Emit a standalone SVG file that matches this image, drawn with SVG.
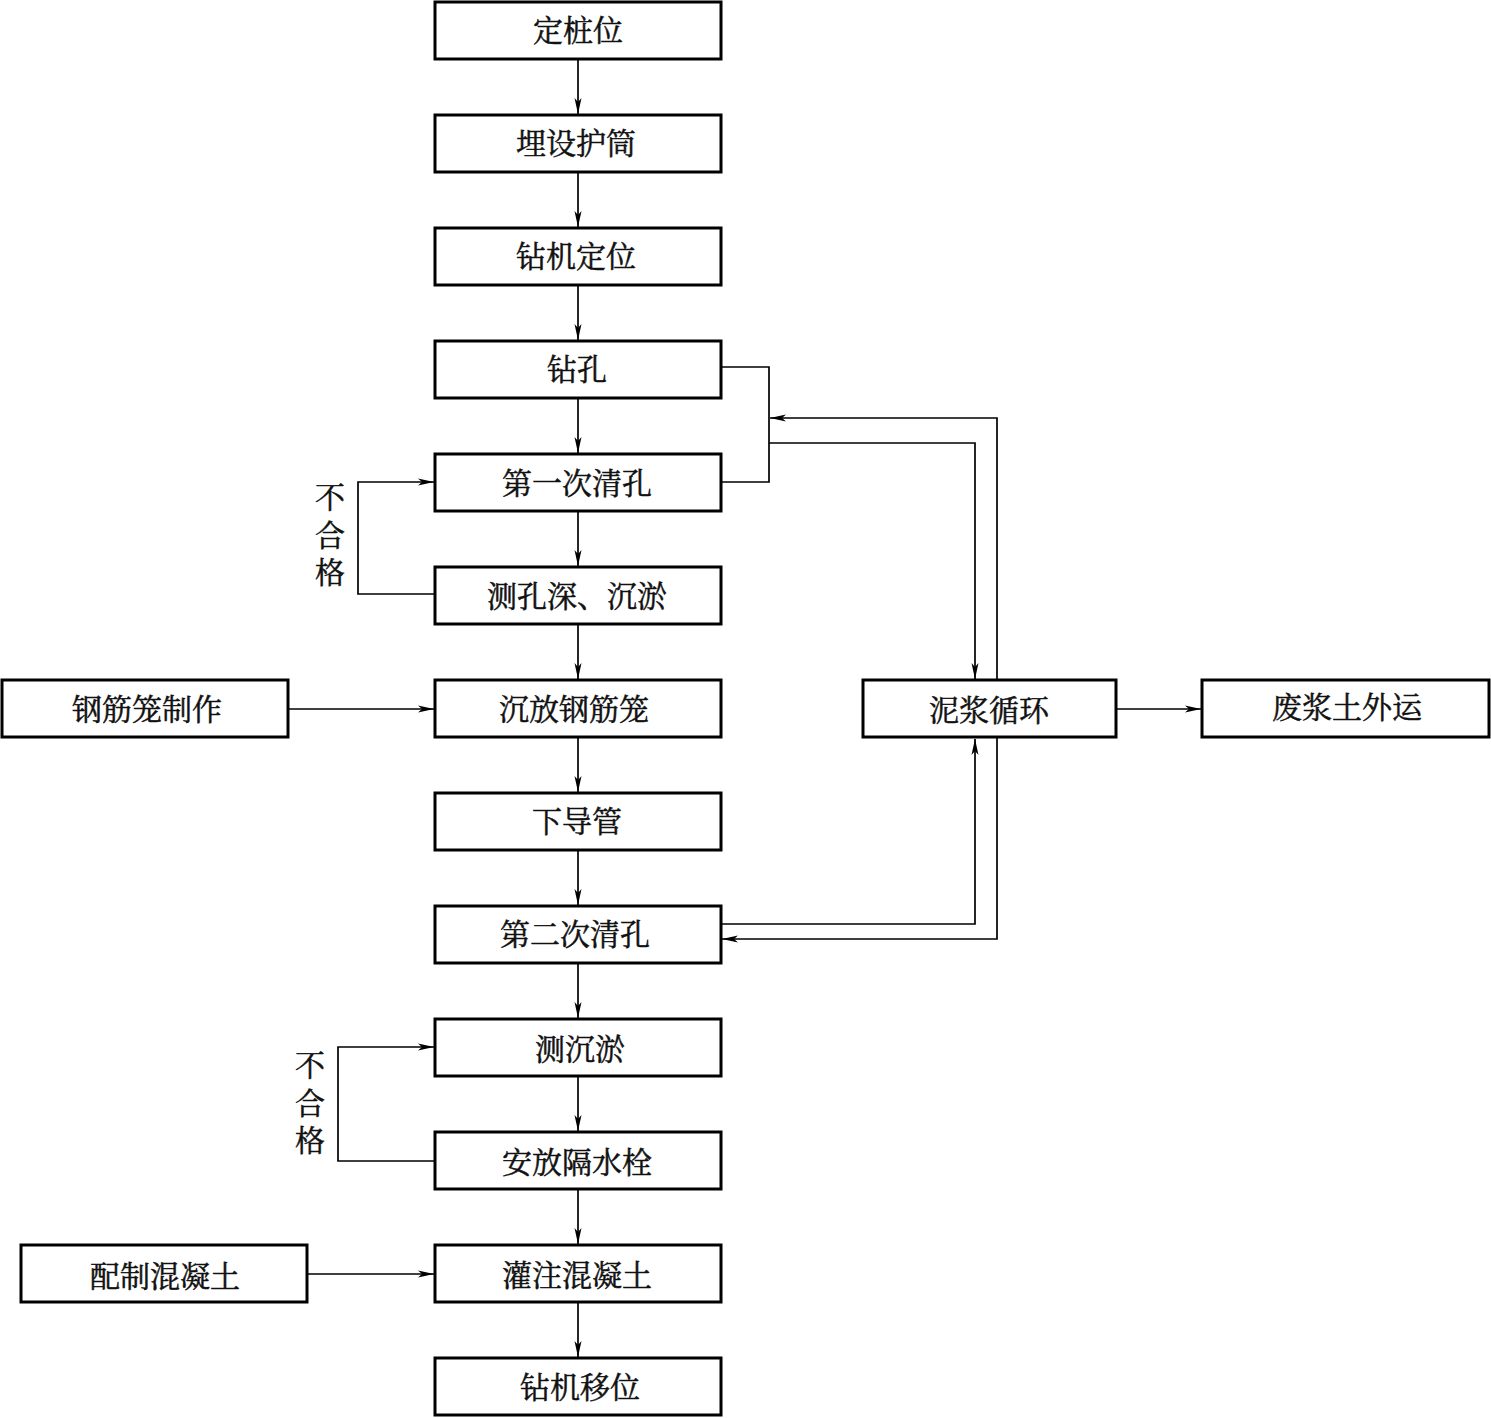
<svg xmlns="http://www.w3.org/2000/svg" width="1491" height="1418" viewBox="0 0 1491 1418">
<style>
.box{fill:#fff;stroke:#000;stroke-width:3}
.t{font-family:"Noto Serif CJK SC","Noto Sans CJK SC",serif;font-size:30px;fill:#111;stroke:#111;stroke-width:0.5;text-anchor:middle;dominant-baseline:central}
.v{font-family:"Noto Serif CJK SC","Noto Sans CJK SC",serif;font-size:30px;fill:#111;stroke:#111;stroke-width:0.5;writing-mode:vertical-rl;text-orientation:upright;letter-spacing:7.5px}
.c{fill:none;stroke:#000;stroke-width:1.7}
</style>
<defs>
<marker id="a" markerWidth="17" markerHeight="9" refX="16" refY="4.5" orient="auto" markerUnits="userSpaceOnUse">
<path d="M0,1 L16,4.5 L0,8 L4,4.5 Z" fill="#000"/>
</marker>
</defs>
<rect width="1491" height="1418" fill="#fff"/>
<g id="connectors">
<line class="c" x1="578" y1="59" x2="578" y2="114" marker-end="url(#a)"/>
<line class="c" x1="578" y1="172" x2="578" y2="227" marker-end="url(#a)"/>
<line class="c" x1="578" y1="285" x2="578" y2="340" marker-end="url(#a)"/>
<line class="c" x1="578" y1="398" x2="578" y2="453" marker-end="url(#a)"/>
<line class="c" x1="578" y1="511" x2="578" y2="566" marker-end="url(#a)"/>
<line class="c" x1="578" y1="624" x2="578" y2="679" marker-end="url(#a)"/>
<line class="c" x1="578" y1="737" x2="578" y2="792" marker-end="url(#a)"/>
<line class="c" x1="578" y1="850" x2="578" y2="905" marker-end="url(#a)"/>
<line class="c" x1="578" y1="963" x2="578" y2="1018" marker-end="url(#a)"/>
<line class="c" x1="578" y1="1076" x2="578" y2="1131" marker-end="url(#a)"/>
<line class="c" x1="578" y1="1189" x2="578" y2="1244" marker-end="url(#a)"/>
<line class="c" x1="578" y1="1302" x2="578" y2="1357" marker-end="url(#a)"/>
<polyline class="c" points="435,594 358,594 358,482 434,482" marker-end="url(#a)"/>
<polyline class="c" points="435,1161 338,1161 338,1047 434,1047" marker-end="url(#a)"/>
<line class="c" x1="288" y1="709" x2="434" y2="709" marker-end="url(#a)"/>
<line class="c" x1="307" y1="1274" x2="434" y2="1274" marker-end="url(#a)"/>
<line class="c" x1="1116" y1="709" x2="1201" y2="709" marker-end="url(#a)"/>
<polyline class="c" points="721,367 769,367 769,482 721,482"/>
<polyline class="c" points="997,680 997,418 770,418" marker-end="url(#a)"/>
<polyline class="c" points="769,443 975,443 975,679" marker-end="url(#a)"/>
<polyline class="c" points="721,924 975,924 975,739" marker-end="url(#a)"/>
<polyline class="c" points="997,738 997,939 722,939" marker-end="url(#a)"/>
</g>
<g id="n1"><rect class="box" x="435" y="2" width="286" height="57"/><text class="t" x="578" y="28">定桩位</text></g>
<g id="n2"><rect class="box" x="435" y="115" width="286" height="57"/><text class="t" x="576" y="141">埋设护筒</text></g>
<g id="n3"><rect class="box" x="435" y="228" width="286" height="57"/><text class="t" x="576" y="254">钻机定位</text></g>
<g id="n4"><rect class="box" x="435" y="341" width="286" height="57"/><text class="t" x="577" y="367">钻孔</text></g>
<g id="n5"><rect class="box" x="435" y="454" width="286" height="57"/><text class="t" x="577" y="481">第一次清孔</text></g>
<g id="n6"><rect class="box" x="435" y="567" width="286" height="57"/><text class="t" x="577" y="594">测孔深、沉淤</text></g>
<g id="n7"><rect class="box" x="435" y="680" width="286" height="57"/><text class="t" x="574" y="707">沉放钢筋笼</text></g>
<g id="n8"><rect class="box" x="435" y="793" width="286" height="57"/><text class="t" x="577" y="819">下导管</text></g>
<g id="n9"><rect class="box" x="435" y="906" width="286" height="57"/><text class="t" x="575" y="932">第二次清孔</text></g>
<g id="n10"><rect class="box" x="435" y="1019" width="286" height="57"/><text class="t" x="580" y="1047">测沉淤</text></g>
<g id="n11"><rect class="box" x="435" y="1132" width="286" height="57"/><text class="t" x="577" y="1160">安放隔水栓</text></g>
<g id="n12"><rect class="box" x="435" y="1245" width="286" height="57"/><text class="t" x="577" y="1273">灌注混凝土</text></g>
<g id="n13"><rect class="box" x="435" y="1358" width="286" height="57"/><text class="t" x="580" y="1385">钻机移位</text></g>
<g id="n14"><rect class="box" x="2" y="680" width="286" height="57"/><text class="t" x="147" y="707">钢筋笼制作</text></g>
<g id="n15"><rect class="box" x="21" y="1245" width="286" height="57"/><text class="t" x="165" y="1274">配制混凝土</text></g>
<g id="n16"><rect class="box" x="863" y="680" width="253" height="57"/><text class="t" x="989" y="708">泥浆循环</text></g>
<g id="n17"><rect class="box" x="1202" y="680" width="287" height="57"/><text class="t" x="1347" y="705">废浆土外运</text></g>
<g id="lbl1"><text class="v" x="330" y="482">不合格</text></g>
<g id="lbl2"><text class="v" x="310" y="1050">不合格</text></g>
</svg>
